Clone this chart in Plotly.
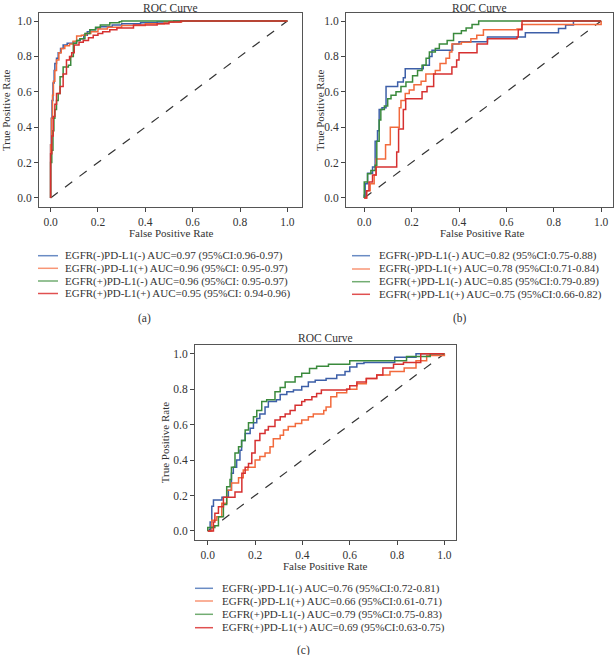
import plotly.graph_objects as go

# ---------------- data ----------------
series_names = ["EGFR(-)PD-L1(-)", "EGFR(-)PD-L1(+)", "EGFR(+)PD-L1(-)", "EGFR(+)PD-L1(+)"]
auc_a = ["AUC=0.97 (95%CI:0.96-0.97)", "AUC=0.96 (95%CI: 0.95-0.97)",
         "AUC=0.96 (95%CI: 0.95-0.97)", "AUC=0.95 (95%CI: 0.94-0.96)"]
auc_b = ["AUC=0.82 (95%CI:0.75-0.88)", "AUC=0.78 (95%CI:0.71-0.84)",
         "AUC=0.85 (95%CI:0.79-0.89)", "AUC=0.75 (95%CI:0.66-0.82)"]
auc_c = ["AUC=0.76 (95%CI:0.72-0.81)", "AUC=0.66 (95%CI:0.61-0.71)",
         "AUC=0.79 (95%CI:0.75-0.83)", "AUC=0.69 (95%CI:0.63-0.75)"]

# panel (a)
a_blue_fpr = [0, 0, 0.003, 0.006, 0.01, 0.015, 0.018, 0.025, 0.032, 0.042, 0.053, 0.07, 0.096, 0.11, 0.124, 0.14, 0.155, 0.166, 0.19, 0.21, 0.26, 0.3, 0.38, 0.45, 0.52, 1]
a_blue_tpr = [0, 0.3, 0.45, 0.55, 0.65, 0.72, 0.76, 0.79, 0.82, 0.845, 0.865, 0.875, 0.883, 0.89, 0.9, 0.92, 0.94, 0.95, 0.96, 0.968, 0.977, 0.985, 0.99, 0.995, 1.0, 1.0]
a_orange_fpr = [0, 0, 0.004, 0.008, 0.012, 0.018, 0.025, 0.035, 0.045, 0.06, 0.08, 0.095, 0.11, 0.13, 0.15, 0.17, 0.2, 0.24, 0.3, 0.4, 0.48, 0.553, 1]
a_orange_tpr = [0, 0.3, 0.45, 0.58, 0.66, 0.72, 0.78, 0.82, 0.845, 0.86, 0.87, 0.885, 0.915, 0.92, 0.93, 0.94, 0.955, 0.965, 0.975, 0.985, 0.995, 1.0, 1.0]
a_green_fpr = [0, 0, 0.005, 0.01, 0.014, 0.018, 0.025, 0.032, 0.04, 0.053, 0.075, 0.085, 0.096, 0.11, 0.124, 0.145, 0.166, 0.19, 0.21, 0.25, 0.29, 0.3, 1]
a_green_tpr = [0, 0.2, 0.27, 0.38, 0.45, 0.5, 0.55, 0.59, 0.685, 0.74, 0.75, 0.8, 0.875, 0.89, 0.9, 0.93, 0.95, 0.965, 0.977, 0.99, 0.996, 1.0, 1.0]
a_red_fpr = [0, 0, 0.005, 0.011, 0.018, 0.025, 0.04, 0.053, 0.067, 0.08, 0.089, 0.1, 0.12, 0.138, 0.16, 0.18, 0.2, 0.22, 0.25, 0.28, 0.35, 0.45, 0.5, 0.55, 1]
a_red_tpr = [0, 0.25, 0.35, 0.46, 0.53, 0.59, 0.63, 0.7, 0.78, 0.8, 0.82, 0.865, 0.88, 0.89, 0.905, 0.92, 0.93, 0.94, 0.95, 0.96, 0.977, 0.985, 0.995, 1.0, 1.0]

# panel (b)
b_blue_fpr = [0, 0, 0.004, 0.014, 0.035, 0.046, 0.056, 0.063, 0.075, 0.092, 0.141, 0.165, 0.173, 0.249, 0.275, 0.286, 0.373, 0.4, 0.52, 0.68, 0.82, 0.85, 0.883, 1]
b_blue_tpr = [0, 0.015, 0.08, 0.14, 0.175, 0.32, 0.38, 0.5, 0.51, 0.63, 0.655, 0.68, 0.73, 0.75, 0.8, 0.835, 0.87, 0.883, 0.91, 0.934, 0.958, 0.977, 1.0, 1.0]
b_orange_fpr = [0, 0.01, 0.025, 0.042, 0.05, 0.09, 0.11, 0.148, 0.155, 0.173, 0.19, 0.21, 0.24, 0.26, 0.3, 0.32, 0.345, 0.36, 0.37, 0.41, 0.45, 0.475, 0.503, 0.645, 0.665, 1.0, 1.0]
b_orange_tpr = [0, 0.04, 0.08, 0.13, 0.22, 0.3, 0.4, 0.51, 0.55, 0.59, 0.61, 0.64, 0.66, 0.7, 0.72, 0.76, 0.79, 0.825, 0.87, 0.88, 0.9, 0.92, 0.95, 0.955, 0.98, 0.98, 1.0]
b_green_fpr = [0, 0, 0.014, 0.028, 0.046, 0.053, 0.063, 0.07, 0.085, 0.099, 0.113, 0.134, 0.155, 0.176, 0.204, 0.225, 0.244, 0.261, 0.275, 0.3, 0.317, 0.35, 0.377, 0.41, 0.43, 0.455, 0.483, 1]
b_green_tpr = [0, 0.09, 0.137, 0.155, 0.185, 0.32, 0.44, 0.5, 0.52, 0.56, 0.58, 0.6, 0.63, 0.655, 0.69, 0.72, 0.75, 0.79, 0.825, 0.845, 0.87, 0.89, 0.93, 0.945, 0.96, 0.98, 1.0, 1.0]
b_red_fpr = [0, 0.01, 0.02, 0.035, 0.05, 0.137, 0.145, 0.165, 0.175, 0.244, 0.265, 0.293, 0.37, 0.39, 0.40, 0.476, 0.52, 0.645, 0.65, 0.666, 1]
b_red_tpr = [0, 0.04, 0.09, 0.13, 0.175, 0.26, 0.39, 0.5, 0.56, 0.6, 0.63, 0.7, 0.74, 0.78, 0.82, 0.87, 0.9, 0.91, 0.95, 1.0, 1.0]

# panel (c)
c_blue_fpr = [0, 0.01, 0.017, 0.024, 0.06, 0.087, 0.1, 0.108, 0.122, 0.136, 0.143, 0.158, 0.179, 0.193, 0.207, 0.22, 0.242, 0.256, 0.29, 0.306, 0.334, 0.362, 0.397, 0.425, 0.454, 0.5, 0.545, 0.58, 0.6, 0.63, 0.66, 0.79, 0.88, 1]
c_blue_tpr = [0, 0.05, 0.14, 0.175, 0.19, 0.23, 0.325, 0.36, 0.4, 0.456, 0.51, 0.55, 0.58, 0.61, 0.635, 0.66, 0.7, 0.73, 0.74, 0.77, 0.785, 0.795, 0.815, 0.84, 0.85, 0.86, 0.88, 0.9, 0.925, 0.945, 0.95, 0.98, 1.0, 1.0]
c_orange_fpr = [0, 0.017, 0.038, 0.059, 0.08, 0.1, 0.13, 0.15, 0.17, 0.2, 0.22, 0.242, 0.263, 0.277, 0.306, 0.32, 0.34, 0.37, 0.397, 0.425, 0.446, 0.49, 0.5, 0.52, 0.545, 0.587, 0.63, 0.67, 0.714, 0.77, 0.83, 0.88, 0.925, 1]
c_orange_tpr = [0, 0.06, 0.08, 0.156, 0.23, 0.27, 0.3, 0.344, 0.36, 0.4, 0.42, 0.44, 0.475, 0.52, 0.54, 0.57, 0.59, 0.607, 0.626, 0.645, 0.66, 0.68, 0.7, 0.757, 0.78, 0.8, 0.83, 0.86, 0.88, 0.9, 0.92, 0.96, 0.99, 1.0]
c_green_fpr = [0, 0, 0.03, 0.045, 0.066, 0.08, 0.094, 0.1, 0.115, 0.13, 0.143, 0.158, 0.172, 0.193, 0.207, 0.228, 0.249, 0.284, 0.306, 0.327, 0.369, 0.397, 0.43, 0.46, 0.51, 0.6, 0.84, 0.94, 1]
c_green_tpr = [0, 0.02, 0.03, 0.08, 0.15, 0.25, 0.29, 0.36, 0.44, 0.475, 0.51, 0.57, 0.61, 0.645, 0.68, 0.73, 0.74, 0.785, 0.81, 0.84, 0.87, 0.89, 0.917, 0.93, 0.94, 0.96, 0.985, 1.0, 1.0]
c_red_fpr = [0, 0.024, 0.03, 0.045, 0.066, 0.115, 0.144, 0.158, 0.172, 0.186, 0.2, 0.22, 0.242, 0.256, 0.284, 0.306, 0.327, 0.348, 0.369, 0.397, 0.41, 0.44, 0.46, 0.48, 0.587, 0.6, 0.63, 0.67, 0.714, 0.74, 0.785, 0.827, 0.9, 1]
c_red_tpr = [0, 0.05, 0.1, 0.137, 0.19, 0.22, 0.325, 0.36, 0.38, 0.44, 0.51, 0.55, 0.57, 0.59, 0.626, 0.645, 0.66, 0.68, 0.71, 0.73, 0.74, 0.757, 0.776, 0.795, 0.8, 0.82, 0.84, 0.86, 0.88, 0.92, 0.94, 0.95, 1.0, 1.0]

chance = [0, 1]
tick_vals = [0, 0.2, 0.4, 0.6, 0.8, 1.0]
tick_text = ["0.0", "0.2", "0.4", "0.6", "0.8", "1.0"]
panel_titles = ["ROC Curve", "ROC Curve", "ROC Curve"]
captions = ["(a)", "(b)", "(c)"]

colors = ["#3d5fa8", "#f26a3c", "#3a8a3c", "#d63030"]
legend_colors = ["#6a8cc4", "#f89676", "#72ad72", "#e05050"]

# ---------------- layout geometry ----------------
W, H = 614, 655
FONT = "Liberation Serif"
TXT = "#333333"

def px(x):
    return x / W

def py(y):
    return 1 - y / H

panels = [
    dict(xa="x", ya="y", frame=(39, 302.3, 12.7, 207.3), xr=[-0.049, 1.063], yr=[-0.053, 1.047],
         data=[(a_blue_fpr, a_blue_tpr), (a_orange_fpr, a_orange_tpr), (a_green_fpr, a_green_tpr), (a_red_fpr, a_red_tpr)],
         auc=auc_a, key=(38, 58, 63), rows=[255.7, 268.3, 281, 293.5], cap=(144, 318),
         xt=(170.5, 232.5), yt=(6, 110), title_y=0),
    dict(xa="x2", ya="y2", frame=(346, 613, 12.7, 207.3), xr=[-0.077, 1.05], yr=[-0.053, 1.047],
         data=[(b_blue_fpr, b_blue_tpr), (b_orange_fpr, b_orange_tpr), (b_green_fpr, b_green_tpr), (b_red_fpr, b_red_tpr)],
         auc=auc_b, key=(352, 370, 377), rows=[255.7, 269, 281.7, 294.3], cap=(460, 318),
         xt=(482, 232.5), yt=(320, 110), title_y=0),
    dict(xa="x3", ya="y3", frame=(195, 456, 344.7, 540), xr=[-0.054, 1.049], yr=[-0.051, 1.051],
         data=[(c_blue_fpr, c_blue_tpr), (c_orange_fpr, c_orange_tpr), (c_green_fpr, c_green_tpr), (c_red_fpr, c_red_tpr)],
         auc=auc_c, key=(195, 213, 220), rows=[588.3, 601, 614.3, 627.7], cap=(303, 650),
         xt=(325, 566), yt=(165, 442), title_y=329.5),
]

fig = go.Figure()
annotations = []
shapes = []
layout_axes = {}

for i, p in enumerate(panels):
    xa, ya = p["xa"], p["ya"]
    # chance diagonal
    fig.add_trace(go.Scatter(x=chance, y=chance, mode="lines", xaxis=xa, yaxis=ya,
                             line=dict(color="#333333", width=1.2, dash="dash"),
                             showlegend=False, hoverinfo="skip"))
    for j, (fx, ty) in enumerate(p["data"]):
        fig.add_trace(go.Scatter(x=fx, y=ty, mode="lines", xaxis=xa, yaxis=ya,
                                 line=dict(color=colors[j], width=1.5, shape="hv"),
                                 name=series_names[j] + " " + p["auc"][j], showlegend=False))
    l, r, t, b = p["frame"]
    axx = "xaxis" if xa == "x" else "xaxis" + xa[1:]
    axy = "yaxis" if ya == "y" else "yaxis" + ya[1:]
    common = dict(showgrid=False, zeroline=False, showline=True, mirror=True,
                  linecolor="#555555", linewidth=1, ticks="outside", ticklen=4,
                  tickcolor="#444444", tickwidth=1, tickvals=tick_vals, ticktext=tick_text,
                  tickfont=dict(family=FONT, size=11.5, color=TXT), fixedrange=True)
    layout_axes[axx] = dict(common, domain=[px(l), px(r)], range=p["xr"], anchor=ya)
    layout_axes[axy] = dict(common, domain=[py(b), py(t)], range=p["yr"], anchor=xa)

    # title (top of its text box placed at title_y)
    annotations.append(dict(text=panel_titles[i], x=px((l + r) / 2), y=py(p["title_y"]), xref="paper", yref="paper",
                            xanchor="center", yanchor="top", showarrow=False,
                            font=dict(family=FONT, size=11.5, color=TXT)))
    # axis titles
    annotations.append(dict(text="False Positive Rate", x=px(p["xt"][0]), y=py(p["xt"][1]), xref="paper", yref="paper",
                            xanchor="center", yanchor="middle", showarrow=False,
                            font=dict(family=FONT, size=11, color=TXT)))
    annotations.append(dict(text="True Positive Rate", x=px(p["yt"][0]), y=py((t + b) / 2), xref="paper", yref="paper",
                            xanchor="center", yanchor="middle", showarrow=False, textangle=-90,
                            font=dict(family=FONT, size=11, color=TXT)))
    # legend
    k0, k1, tx = p["key"]
    for j, yy in enumerate(p["rows"]):
        shapes.append(dict(type="line", xref="paper", yref="paper", x0=px(k0), x1=px(k1), y0=py(yy), y1=py(yy),
                           line=dict(color=legend_colors[j], width=1.5)))
        annotations.append(dict(text=series_names[j] + " " + p["auc"][j], x=px(tx), y=py(yy), xref="paper", yref="paper",
                                xanchor="left", yanchor="middle", showarrow=False,
                                font=dict(family=FONT, size=11, color=TXT)))
    # caption
    annotations.append(dict(text=captions[i], x=px(p["cap"][0]), y=py(p["cap"][1]), xref="paper", yref="paper",
                            xanchor="center", yanchor="middle", showarrow=False,
                            font=dict(family=FONT, size=11.5, color=TXT)))

fig.update_layout(width=W, height=H, margin=dict(l=0, r=0, t=0, b=0),
                  paper_bgcolor="white", plot_bgcolor="white",
                  annotations=annotations, shapes=shapes, showlegend=False, **layout_axes)

fig.write_html("out.html", config={"displayModeBar": False},
               post_script="document.body.style.margin='0';document.body.style.padding='0';")
